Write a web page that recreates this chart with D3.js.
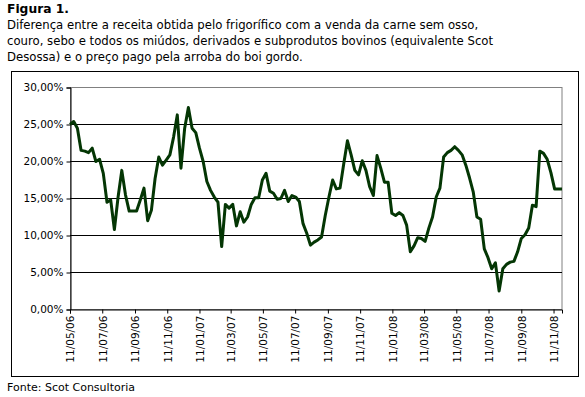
<!DOCTYPE html>
<meta charset="utf-8">
<style>
  body { margin: 0; background: #fff; }
  svg { display: block; }
  text { font-family: "DejaVu Sans", Verdana, sans-serif; fill: #000; }
  .title { font-size: 11.7px; }
  .tick-label { font-size: 10.5px; }
</style>
<body>
<svg width="585" height="397"></svg>
<script src="https://cdn.jsdelivr.net/npm/d3@7"></script>
<script>
// weekly series, first week on 11/05/2006
var startDate = "11/05/06";
var margem = [
  25.0, 25.4, 24.5, 21.5, 21.4, 21.2, 21.8, 20.0, 20.3, 18.4,
  14.5, 14.8, 10.8, 15.2, 18.8, 15.5, 13.3, 13.3, 13.3, 14.8,
  16.4, 12.0, 13.4, 17.7, 20.6, 19.5, 20.2, 20.9, 23.3, 26.3,
  19.1, 24.5, 27.3, 24.5, 23.9, 21.8, 20.0, 17.3, 16.1, 15.2,
  14.5, 8.5, 14.2, 13.7, 14.2, 11.3, 13.2, 11.8, 12.5, 14.2,
  15.1, 15.1, 17.5, 18.4, 16.0, 15.7, 14.9, 15.0, 16.1, 14.6,
  15.4, 15.2, 14.6, 11.6, 10.3, 8.7, 9.1, 9.4, 9.8, 12.7,
  15.2, 17.5, 16.3, 16.4, 19.7, 22.8, 20.9, 18.8, 18.2, 20.1,
  18.8, 16.6, 15.4, 20.8, 19.1, 17.2, 17.2, 13.0, 12.7, 13.1,
  12.7, 11.4, 7.8, 8.6, 9.7, 9.6, 9.2, 11.0, 12.5, 15.2,
  16.4, 20.6, 21.2, 21.5, 22.0, 21.5, 20.9, 19.5, 17.8, 15.9,
  12.5, 12.2, 8.2, 7.0, 5.5, 6.3, 2.5, 5.5, 6.1, 6.4,
  6.5, 7.8, 9.6, 10.1, 11.0, 14.1, 13.9, 21.4, 21.1, 20.3,
  18.5, 16.3, 16.3, 16.3
];
var xTickLabels = ["11/05/06", "11/07/06", "11/09/06", "11/11/06", "11/01/07", "11/03/07",
  "11/05/07", "11/07/07", "11/09/07", "11/11/07", "11/01/08", "11/03/08",
  "11/05/08", "11/07/08", "11/09/08", "11/11/08"];
var yTicks = [0, 5, 10, 15, 20, 25, 30];
var titleLines = [
  "Diferença entre a receita obtida pelo frigorífico com a venda da carne sem osso,",
  "couro, sebo e todos os miúdos, derivados e subprodutos bovinos (equivalente Scot",
  "Desossa) e o preço pago pela arroba do boi gordo."
];

var parse = d3.timeParse("%d/%m/%y");
var t0 = parse(startDate);
var data = margem.map(function(v, i) { return { date: d3.timeDay.offset(t0, 7 * i), value: v }; });

var svg = d3.select("svg");
var pt = d3.formatLocale({ decimal: ",", thousands: ".", grouping: [3], currency: ["R$", ""] });
var fmt = pt.format(".2f");

// heading
svg.append("text").attr("x", 7).attr("y", 13)
  .style("font-size", "12.3px").style("font-weight", "bold").text("Figura 1.");
svg.selectAll(".title").data(titleLines).enter().append("text")
  .attr("class", "title")
  .attr("x", 7)
  .attr("y", function(d, i) { return 28.5 + i * 16; })
  .text(function(d) { return d; });

// outer frame
svg.append("rect").attr("x", 11.5).attr("y", 71.5).attr("width", 567).attr("height", 305)
  .attr("fill", "none").attr("stroke", "#000");

var x = d3.scaleTime()
  .domain([t0, data[data.length - 1].date])
  .range([70, 562]);
var y = d3.scaleLinear().domain([0, 30]).range([309.5, 87.5]);

var g = svg.append("g");

// plot area border
g.append("rect").attr("x", 70.5).attr("y", 87.5).attr("width", 491.5).attr("height", 222)
  .attr("fill", "none").attr("stroke", "#808080");

// gridlines
g.selectAll(".grid").data(yTicks.filter(function(d) { return d > 0 && d < 30; }))
  .enter().append("line")
  .attr("x1", 70).attr("x2", 562)
  .attr("y1", function(d) { return y(d); })
  .attr("y2", function(d) { return y(d); })
  .attr("stroke", "#000");

// y axis
var yAxis = g.append("g").attr("transform", "translate(70.5,0)")
  .call(d3.axisLeft(y).tickValues(yTicks).tickSize(4).tickPadding(3)
    .tickFormat(function(d) { return fmt(d) + "%"; }));
yAxis.select(".domain").attr("stroke", "#000");
yAxis.selectAll("text").attr("class", "tick-label").attr("font-family", null).attr("font-size", null);

// x axis
var xAxis = g.append("g").attr("transform", "translate(0,309.5)")
  .call(d3.axisBottom(x).tickValues(xTickLabels.map(parse)).tickSize(4)
    .tickFormat(d3.timeFormat("%d/%m/%y")));
xAxis.select(".domain").attr("stroke", "#000");
xAxis.selectAll("text")
  .attr("class", "tick-label").attr("font-family", null).attr("font-size", null)
  .attr("transform", "rotate(-90)")
  .attr("text-anchor", "end")
  .attr("x", -6).attr("y", 0).attr("dy", "0.36em");

// series
g.append("path").datum(data)
  .attr("fill", "none")
  .attr("stroke", "#043604")
  .attr("stroke-width", 3)
  .attr("stroke-linejoin", "round")
  .attr("d", d3.line().x(function(d) { return x(d.date); }).y(function(d) { return y(d.value); }));

svg.append("text").attr("x", 7).attr("y", 391)
  .style("font-size", "11px").text("Fonte: Scot Consultoria");
</script>
</body>
